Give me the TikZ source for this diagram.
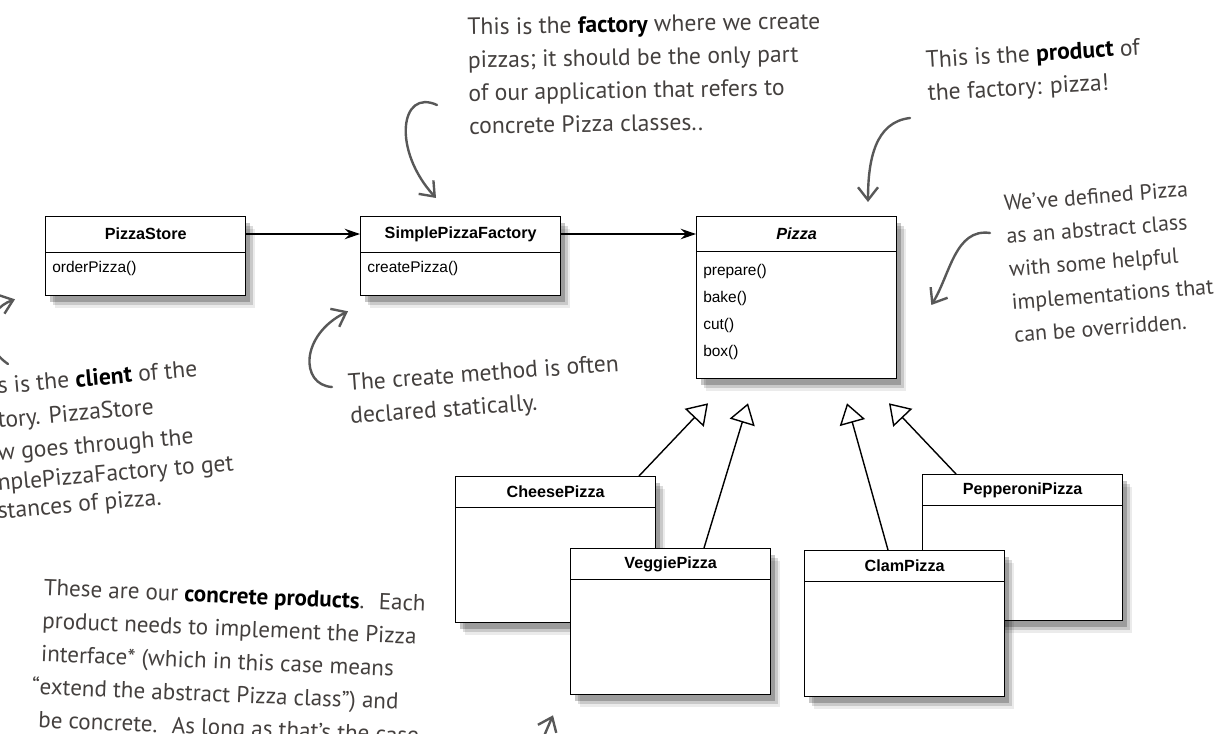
\documentclass[tikz,border=0pt]{standalone}
\usepackage{fontspec}
\setmainfont{Liberation Sans}
\newfontfamily\hand{PT Sans}
\usepackage{xcolor}
\usetikzlibrary{arrows.meta,shadows,calc,positioning}
\definecolor{notegray}{RGB}{68,64,62}
\definecolor{arrowgray}{RGB}{88,88,88}
\newcommand{\keyw}[1]{\textcolor{black}{\bfseries #1}}

\begin{document}
\begin{tikzpicture}[x=0.025cm,y=-0.025cm,
    cls/.style={draw, fill=white, line width=0.9pt, minimum width=5cm, anchor=north west, inner sep=0,
        drop shadow={shadow xshift=0.24cm, shadow yshift=-0.3cm, fill=black, opacity=0.08},
        drop shadow={shadow xshift=0.18cm, shadow yshift=-0.23cm, fill=black, opacity=0.14},
        drop shadow={shadow xshift=0.11cm, shadow yshift=-0.15cm, fill=black, opacity=0.22},
        path picture={\draw[line width=0.8pt] ([yshift=-#1]path picture bounding box.north west) -- ([yshift=-#1]path picture bounding box.north east);}},
    cls/.default=0.9cm,
    ctitle/.style={font=\fontsize{11.5}{13}\selectfont\bfseries},
    meth/.style={font=\fontsize{11}{13}\selectfont, anchor=west, inner sep=0},
    assoc/.style={line width=1.4pt, -{Stealth[length=3.8mm, width=2.6mm]}},
    inherit/.style={line width=1pt, -{Triangle[open, fill=white, length=5mm, width=6.5mm]}},
    note/.style={font=\hand\fontsize{16.8}{23.5}\selectfont, text=notegray, align=left, inner sep=0, anchor=north west},
    handarrow/.style={draw=arrowgray, line width=1.7pt, line cap=round, line join=round,
        -{Straight Barb[length=3.2mm, width=5mm]}}]

\useasboundingbox (0,0) rectangle (1215,734);
\fill[white] (0,0) rectangle (1215,734);
\clip (0,0) rectangle (1215,734);

\node[cls, minimum height=1.975cm] (store) at (45,216) {};
\node[ctitle] (storeT) at ([yshift=-0.45cm]store.north) {PizzaStore};
\node[meth] (storeM) at ([xshift=0.175cm, yshift=-1.3cm]store.north west) {orderPizza()};

\node[cls, minimum height=1.975cm] (spf) at (360,216) {};
\node[ctitle] (spfT) at ([yshift=-0.45cm]spf.north) {SimplePizzaFactory};
\node[meth] (spfM) at ([xshift=0.175cm, yshift=-1.3cm]spf.north west) {createPizza()};

\node[cls=0.875cm, minimum height=4.05cm] (pizza) at (696,216) {};
\node[ctitle, font=\fontsize{11.5}{13}\selectfont\bfseries\itshape] (pizzaT) at ([yshift=-0.44cm]pizza.north) {Pizza};
\foreach \m [count=\i] in {prepare(), bake(), cut(), box()}
    \node[meth] (pm\i) at ([xshift=0.175cm, yshift={-1.375cm-(\i-1)*0.68cm}]pizza.north west) {\m};

\node[cls=0.775cm, minimum height=3.65cm] (cheese) at (455,476) {};
\node[ctitle] (cheeseT) at ([yshift=-0.4cm]cheese.north) {CheesePizza};
\node[cls=0.775cm, minimum height=3.65cm] (pep) at (922,474) {};
\node[ctitle] (pepT) at ([yshift=-0.4cm]pep.north) {PepperoniPizza};
\node[cls=0.775cm, minimum height=3.65cm] (veggie) at (570,548) {};
\node[ctitle] (veggieT) at ([yshift=-0.4cm]veggie.north) {VeggiePizza};
\node[cls=0.775cm, minimum height=3.65cm] (clam) at (804,550) {};
\node[ctitle] (clamT) at ([yshift=-0.4cm]clam.north) {ClamPizza};

\draw[assoc] (store.east |- storeT) -- (spf.west |- storeT);
\draw[assoc] (spf.east |- spfT) -- (pizza.west |- spfT);

\coordinate (tip1) at ($(pizza.south west)+(12,24)$);
\coordinate (tip2) at ($(pizza.south west)+(52,24)$);
\coordinate (tip3) at ($(pizza.south west)+(151,24)$);
\coordinate (tip4) at ($(pizza.south west)+(193,24)$);
\draw[inherit] ($(cheese.north west)+(184,0)$) -- (tip1);
\draw[inherit] ($(veggie.north west)+(134,0)$) -- (tip2);
\draw[inherit] ($(clam.north west)+(84,0)$) -- (tip3);
\draw[inherit] ($(pep.north west)+(34,0)$) -- (tip4);

\node[note, rotate=1] (factoryNote) at (467,18)
    {This is the \keyw{factory} where we create\\pizzas; it should be the only part\\of our application that refers to\\concrete Pizza classes..};
\node[note, rotate=3.5] (productNote) at (925,51)
    {This is the \keyw{product} of\\the factory: pizza!};
\node[note, rotate=4.5, font=\hand\fontsize{15.6}{23.5}\selectfont] (abstractNote) at (1003,195)
    {We’ve defined Pizza\\as an abstract class\\with some helpful\\implementations that\\can be overridden.};
\foreach \y/\t [count=\i] in {394/{s is the \keyw{client} of the}, 428/{tory. PizzaStore},
        461/{w goes through the}, 491/{nplePizzaFactory to get}, 519/{stances of pizza.}}
    \node[note, anchor=base west, rotate=5] (client\i) at (-2,\y) {\t};
\node[note, rotate=4.2] (createNote) at (347,374)
    {The create method is often\\declared statically.};
\node[note, rotate=-2.4, font=\hand\fontsize{16.4}{23.5}\selectfont] (concreteNote) at (44,579)
    {These are our \keyw{concrete products}.~ Each\\product needs to implement the Pizza\\interface* (which in this case means\\\llap{“}extend the abstract Pizza class”) and\\be concrete.~ As long as that’s the case};

\coordinate (fa) at (437,105);
\draw[handarrow] (fa) .. controls (400,88) and (392,150) .. ($(spf.north west)+(76,-18)$);
\coordinate (fb) at (910,118);
\draw[handarrow] (fb) .. controls (875,122) and (868,160) .. ($(pizza.north west)+(172,-14)$);
\coordinate (fc) at (990,233);
\draw[handarrow] (fc) .. controls (955,228) and (950,275) .. ($(pizza.north east)+(34,89)$);
\coordinate (fd) at (332,387);
\draw[handarrow] (fd) .. controls (300,385) and (300,335) .. ($(spf.south west)+(-12,15)$);
\coordinate (fe) at (8,364);
\draw[handarrow] (fe) .. controls (-20,345) and (-15,310) .. ($(store.south west)+(-30,3)$);
\coordinate (ff) at (538,770);
\draw[handarrow] (ff) .. controls (540,745) .. ($(veggie.south west)+(-17,20)$);
\end{tikzpicture}
\end{document}
